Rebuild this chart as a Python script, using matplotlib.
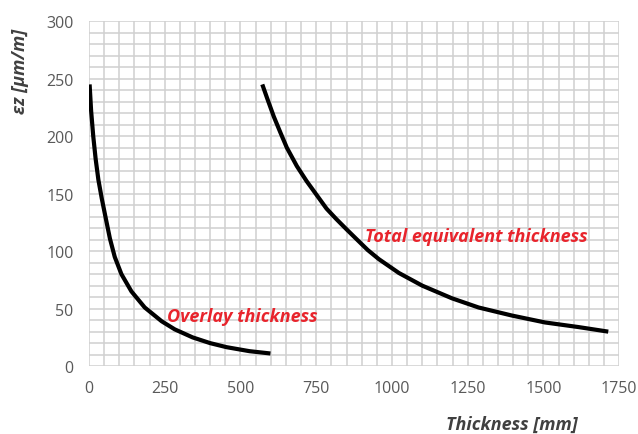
import matplotlib
matplotlib.use("Agg")
import matplotlib.pyplot as plt
import numpy as np

# overlay thickness curve (mm, µm/m)
overlay_x = [2, 7, 14, 22, 31, 42, 55, 69, 85, 107, 140, 184, 240, 283, 342, 400, 454, 530, 599]
overlay_y = [245, 222, 200, 180, 162, 146, 129, 111, 95, 80, 65, 51, 39, 32, 25, 20, 16.5, 13, 11]

# total equivalent thickness curve
total_x = [572, 588, 610, 632, 653, 686, 718, 751, 784, 816, 850, 881, 920, 957, 1023,
           1100, 1198, 1286, 1396, 1505, 1615, 1714]
total_y = [245, 233, 217, 203, 190, 174, 161, 149, 137, 128, 119, 111, 101, 93, 81,
           70, 59, 51, 44, 38, 34, 30]

x_ticks = [0, 250, 500, 750, 1000, 1250, 1500, 1750]
y_ticks = [0, 50, 100, 150, 200, 250, 300]

label_color = "#e8242c"
tick_color = "#595959"
font = ["Open Sans", "DejaVu Sans"]

fig = plt.figure(figsize=(6.38, 4.35), dpi=100)
ax = fig.add_axes([0.1395, 0.156, 0.831, 0.793])

ax.plot(overlay_x, overlay_y, color="black", lw=3, solid_capstyle="butt",
        solid_joinstyle="round", zorder=3)
ax.plot(total_x, total_y, color="black", lw=3, solid_capstyle="butt",
        solid_joinstyle="round", zorder=3)

ax.set_xlim(0, 1750)
ax.set_ylim(0, 300)
ax.set_xticks(x_ticks)
ax.set_yticks(y_ticks)
ax.set_xticks(np.arange(0, 1751, 50), minor=True)
ax.set_yticks(np.arange(0, 301, 10), minor=True)
ax.grid(True, which="both", color="#d0d0d0", lw=1.1)
ax.set_axisbelow(True)
for s in ax.spines.values():
    s.set_visible(False)
ax.tick_params(which="both", length=0)
ax.tick_params(axis="y", pad=11)
ax.tick_params(axis="x", pad=10)
for t in ax.get_xticklabels() + ax.get_yticklabels():
    t.set_fontfamily(font)
    t.set_fontsize(11.5)
    t.set_color(tick_color)

ax.text(257, 44, "Overlay thickness", color=label_color, fontsize=13,
        fontweight="bold", fontstyle="italic", family=font, va="center")
ax.text(911, 113, "Total equivalent thickness", color=label_color, fontsize=13,
        fontweight="bold", fontstyle="italic", family=font, va="center")

fig.text(20 / 638, 1 - 71 / 435, "εz [μm/m]", rotation=90, ha="center", va="center",
         fontsize=13, fontweight="bold", fontstyle="italic", family=font, color="#404040")
fig.text(512 / 638, 1 - 425 / 435, "Thickness [mm]", ha="center", va="center",
         fontsize=13, fontweight="bold", fontstyle="italic", family=font, color="#404040")

fig.savefig("out.png", dpi=100)
